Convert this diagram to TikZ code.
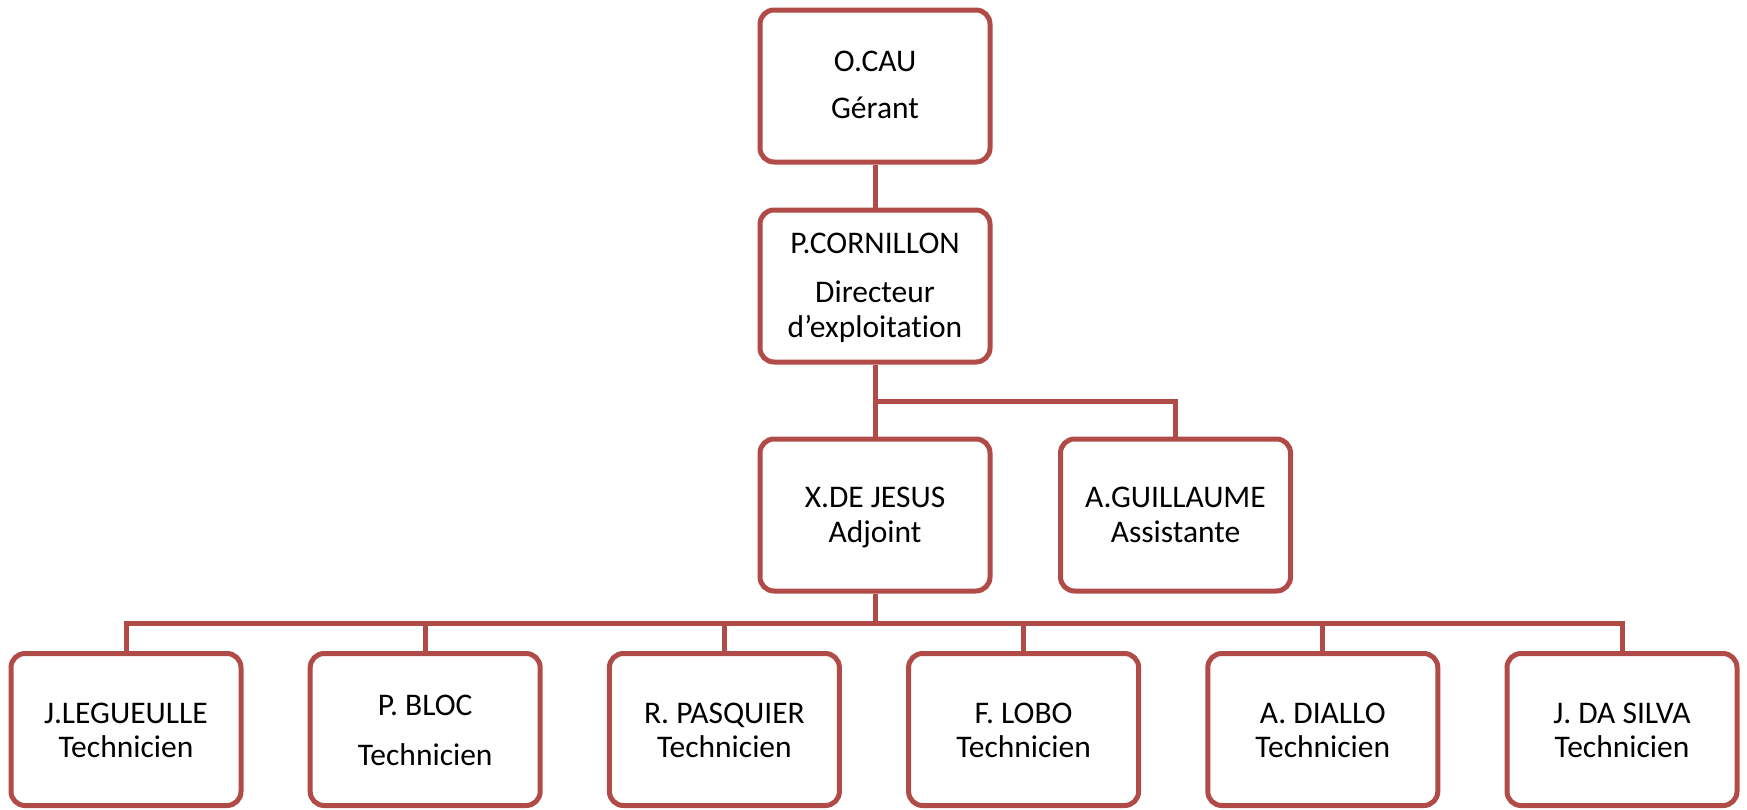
\documentclass[tikz,border=0pt]{standalone}
\usepackage{fontspec}
\setmainfont{Carlito}[Ligatures=NoCommon]
\definecolor{boxred}{RGB}{176,75,72}
\begin{document}
\begin{tikzpicture}[x=1pt,y=-1pt,
  box/.style={draw=boxred,line width=5pt,rounded corners=14pt,fill=white,
    minimum width=230pt,minimum height=152pt,inner sep=0pt},
  txt/.style={anchor=base,inner sep=0pt,font=\fontsize{31.5}{36}\selectfont},
  conn/.style={draw=boxred,line width=5pt}]
\useasboundingbox (0,0) rectangle (1747,809);
% boxes
\node[box] (b1) at (875,86) {};
\node[box] (b2) at (875,286) {};
\node[box] (b3) at (875,515) {};
\node[box] (b4) at (1175.5,515) {};
\node[box] (t1) at (126,729.5) {};
\node[box] (t2) at (425.2,729.5) {};
\node[box] (t3) at (724.4,729.5) {};
\node[box] (t4) at (1023.6,729.5) {};
\node[box] (t5) at (1322.8,729.5) {};
\node[box] (t6) at (1622,729.5) {};
% texts
\node[txt] (b1a) at (875,71) {O.CAU};
\node[txt] (b1b) at (875,118) {Gérant};
\node[txt] (b2a) at (875,253) {P.CORNILLON};
\node[txt] (b2b) at (875,302) {Directeur};
\node[txt] (b2c) at (875,337) {d’exploitation};
\node[txt] (b3a) at (875,507) {X.DE JESUS};
\node[txt] (b3b) at (875,542) {Adjoint};
\node[txt] (b4a) at (1175.5,507) {A.GUILLAUME};
\node[txt] (b4b) at (1175.5,542) {Assistante};
\node[txt] (t1a) at (126,723) {J.LEGUEULLE};
\node[txt] (t1b) at (126,757) {Technicien};
\node[txt] (t2a) at (425.2,715) {P. BLOC};
\node[txt] (t2b) at (425.2,765) {Technicien};
\node[txt] (t3a) at (724.4,723) {R. PASQUIER};
\node[txt] (t3b) at (724.4,757) {Technicien};
\node[txt] (t4a) at (1023.6,723) {F. LOBO};
\node[txt] (t4b) at (1023.6,757) {Technicien};
\node[txt] (t5a) at (1322.8,723) {A. DIALLO};
\node[txt] (t5b) at (1322.8,757) {Technicien};
\node[txt] (t6a) at (1622,723) {J. DA SILVA};
\node[txt] (t6b) at (1622,757) {Technicien};
% connectors
\coordinate (j1) at (875,401);
\coordinate (j2) at (875,623);
\draw[conn] (b1.south) -- (b2.north);
\draw[conn] (b2.south) -- (b3.north);
\draw[conn] (j1) -| (b4.north);
\draw[conn] (b3.south) -- (j2);
\draw[conn] (t1.north) |- (j2) -| (t6.north);
\draw[conn] (t2.north) -- (t2.north |- j2);
\draw[conn] (t3.north) -- (t3.north |- j2);
\draw[conn] (t4.north) -- (t4.north |- j2);
\draw[conn] (t5.north) -- (t5.north |- j2);
\end{tikzpicture}
\end{document}
